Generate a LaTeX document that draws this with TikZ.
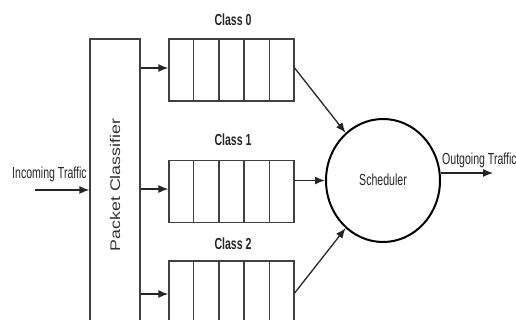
\documentclass[tikz,border=0pt]{standalone}
\usepackage{fontspec}
\setmainfont{Liberation Sans}[FakeStretch=0.66]
\newfontfamily\vfont{Liberation Sans}[FakeStretch=1.27]
\usetikzlibrary{arrows.meta,calc,shapes.geometric}
\begin{document}
\begin{tikzpicture}[x=1pt,y=-1pt,
  box/.style={draw=black!75,line width=1.3pt,inner sep=0pt},
  queue/.style={box,minimum width=125pt,minimum height=62pt},
  lbl/.style={inner sep=0pt,font=\fontsize{16}{16}\selectfont,text=black!85},
  clbl/.style={lbl,font=\fontsize{16}{16}\selectfont\bfseries},
  arr/.style={draw=black!85,line width=1.3pt,-{Latex[length=10pt,width=8pt]}}]
\clip (0,0) rectangle (516,320);
\fill[white] (0,0) rectangle (516,320);
% classifier
\node[box,minimum width=50pt,minimum height=306pt] (cls) at (115,192) {};
\node[inner sep=0pt,rotate=90,font=\vfont\fontsize{14}{14}\selectfont,text=black!80] (clst) at (115,185) {Packet Classifier};
% queues
\node[queue] (q0) at (231.5,70) {};
\node[queue] (q1) at (231.5,191.5) {};
\node[queue] (q2) at (231.5,292) {};
\foreach \q in {q0,q1,q2}{
  \foreach \i in {1,2,3,4}{
    \draw[draw=black!75,line width=1.3pt] ($(\q.north west)!\i/5!(\q.north east)$) -- ($(\q.south west)!\i/5!(\q.south east)$);
  }
}
\node[clbl,anchor=base] (l0) at (233,26) {Class 0};
\node[clbl,anchor=base] (l1) at (233,146) {Class 1};
\node[clbl,anchor=base] (l2) at (233,249) {Class 2};
% scheduler
\node[ellipse,draw=black,line width=2pt,minimum width=114pt,minimum height=123pt,inner sep=0pt] (sched) at (383,180.5) {};
\node[lbl,anchor=base] (st) at (383,186) {Scheduler};
% incoming
\coordinate (in) at (35,190);
\node[lbl,anchor=base west] (inl) at (12,179) {Incoming Traffic};
\draw[arr] (in) -- (in -| cls.west);
% classifier to queues
\draw[arr] ($(cls.east |- q0.west)+(0,-2)$) -- ($(q0.west)+(0,-2)$);
\draw[arr] ($(cls.east |- q1.west)+(0,-2.5)$) -- ($(q1.west)+(0,-2.5)$);
\draw[arr] ($(cls.east |- q2.west)+(0,2)$) -- ($(q2.west)+(0,2)$);
% queues to scheduler
\draw[arr] ($(q0.east)+(0,-2)$) -- (sched);
\draw[arr] (sched.west -| q1.east) -- (sched.west);
\draw[arr] ($(q2.east)+(0,1)$) -- (sched);
% outgoing
\coordinate (out) at (493,173);
\node[lbl,anchor=base west] (outl) at (442,165) {Outgoing Traffic};
\draw[arr] (out -| sched.east) -- (out);
\end{tikzpicture}
\end{document}
